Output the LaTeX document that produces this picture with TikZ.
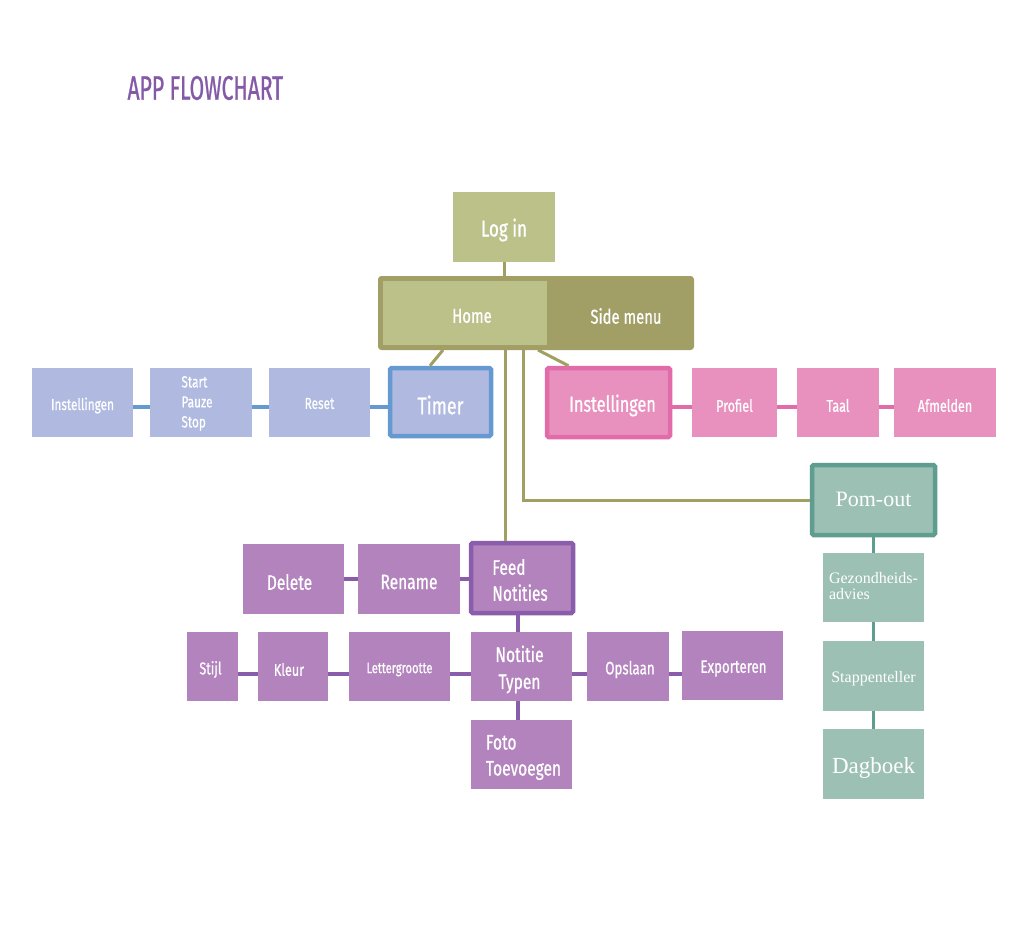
\documentclass[tikz,border=0pt]{standalone}
\usepackage{fontspec}
\setmainfont{Fira Sans}[FakeStretch=0.74, FakeBold=0.7]
\newfontfamily\titlefont{Fira Sans}[FakeStretch=0.62, FakeBold=0.8]
\newfontfamily\serif{Liberation Serif}
\definecolor{olL}{HTML}{BCC18A}
\definecolor{olD}{HTML}{A19F66}
\definecolor{olLine}{HTML}{A0A062}
\definecolor{blF}{HTML}{B0B9E0}
\definecolor{blB}{HTML}{6799D1}
\definecolor{piF}{HTML}{E891BE}
\definecolor{piB}{HTML}{E26BA9}
\definecolor{puF}{HTML}{B283BD}
\definecolor{puB}{HTML}{8A5DAC}
\definecolor{teF}{HTML}{9DC0B4}
\definecolor{teB}{HTML}{5E9D90}
\definecolor{titleC}{HTML}{8459A8}
\newcommand{\fs}[2]{\fontsize{#1}{#2}\selectfont}
% \bx{name}{box style}{position}{width}{height}{text style}{text}
\newcommand{\bx}[7]{%
  \node[#2, minimum width=#4pt, minimum height=#5pt] (#1) at (#3) {};
  \node[txt, #6] (#1t) at ([yshift=-3pt]#1.center) {#7};}
\tikzset{
  box/.style={rectangle, inner sep=0pt},
  txt/.style={inner sep=1pt, text=white, align=center},
  blue/.style={box, fill=blF},
  pink/.style={box, fill=piF},
  purp/.style={box, fill=puF},
  teal/.style={box, fill=teF},
  main/.style={line width=4.5pt, rounded corners=1.5pt},
  ser/.style={font=\serif\fs{16}{16}},
  oline/.style={draw=olLine, line width=3pt},
  bline/.style={draw=blB, line width=4pt},
  pline/.style={draw=piB, line width=4pt},
  uline/.style={draw=puB, line width=3.5pt},
  tline/.style={draw=teB, line width=3.5pt},
}
\begin{document}
\begin{tikzpicture}[x=1pt,y=-1pt]
\useasboundingbox[fill=white] (0,0) rectangle (1024,950);

\node[anchor=west, text=titleC, font=\titlefont\fs{34}{36}] (title) at (124,88) {APP FLOWCHART};

% olive
\bx{login}{box, fill=olL}{504,227}{102}{70}{font=\fs{23}{25}}{Log in}
\node[box, fill=olD, draw=olD, line width=1pt, rounded corners=3pt, minimum width=315pt, minimum height=73pt] (outer) at (536,313) {};
\node[box, fill=olL, minimum width=164pt, minimum height=64pt] (home) at (465,313) {};
\node[txt, font=\fs{20}{22}] (homet) at (472,316) {Home};
\node[txt, font=\fs{20}{22}] (side) at (626,316) {Side menu};
\draw[oline] (login.south) -- (login.south |- outer.north);

% timer row
\bx{timer}{blue, draw=blB, main}{440.5,402}{101}{68}{font=\fs{24}{26}}{Timer}
\bx{reset}{blue}{319.5,402.5}{101}{69}{font=\fs{16}{20}, yshift=2pt}{Reset}
\bx{sps}{blue}{201,402.5}{102}{69}{font=\fs{16}{20}, align=left, xshift=-4pt, yshift=2pt}{Start\\Pauze\\Stop}
\bx{instl}{blue}{82.5,402.5}{101}{69}{font=\fs{16}{20}}{Instellingen}
\draw[bline] (timer.west |- 0,407) -- (reset.east |- 0,407);
\draw[bline] (reset.west |- 0,407) -- (sps.east |- 0,407);
\draw[bline] (sps.west |- 0,407) -- (instl.east |- 0,407);

% pink row
\bx{instr}{pink, draw=piB, main}{608.5,402.5}{123}{69}{font=\fs{22}{24}, xshift=4pt}{Instellingen}
\bx{profiel}{pink}{734.5,402.5}{85}{69}{font=\fs{17}{19}}{Profiel}
\bx{taal}{pink}{838,402.5}{82}{69}{font=\fs{17}{19}}{Taal}
\bx{afm}{pink}{945,402.5}{102}{69}{font=\fs{17}{19}}{Afmelden}
\draw[pline] (instr.east |- 0,407) -- (profiel.west |- 0,407);
\draw[pline] (profiel.east |- 0,407) -- (taal.west |- 0,407);
\draw[pline] (taal.east |- 0,407) -- (afm.west |- 0,407);

% home connectors
\draw[oline] ([xshift=-93pt]outer.south) -- ([xshift=-10.5pt]timer.north);
\draw[oline] ([xshift=2pt]outer.south) -- ([xshift=-40pt]instr.north);

% pom-out
\bx{pom}{teal, draw=teB, main}{873.5,500}{123}{70}{font=\serif\fs{22}{24}, yshift=4pt}{Pom-out}
\bx{gez}{teal}{873.5,587.5}{101}{69}{ser, align=left, yshift=4pt}{Gezondheids-\\advies}
\bx{stap}{teal}{873.5,676}{101}{70}{ser}{Stappenteller}
\bx{dag}{teal}{873.5,764}{101}{70}{font=\serif\fs{23}{25}, yshift=-1pt}{Dagboek}
\draw[tline] (pom.south) -- (gez.north);
\draw[tline] (gez.south) -- (stap.north);
\draw[tline] (stap.south) -- (dag.north);

% feed
\bx{feed}{purp, draw=puB, main}{522,578}{102}{70}{font=\fs{21}{26}, align=left, xshift=-2pt, yshift=1pt}{Feed\\Notities}
\bx{rename}{purp}{409,579}{102}{70}{font=\fs{21}{23}}{Rename}
\bx{delete}{purp}{293.5,579}{101}{70}{font=\fs{21}{23}, xshift=-4pt}{Delete}
\draw[uline] (feed.west |- 0,579) -- (rename.east |- 0,579);
\draw[uline] (rename.west |- 0,579) -- (delete.east |- 0,579);

\draw[oline] ([xshift=-17pt]feed.north) -- ([xshift=-17pt]feed.north |- outer.south);
\draw[oline] ([xshift=-13pt]outer.south) |- (pom.west);

% notitie row
\bx{not}{purp}{521.5,666.5}{101}{69}{font=\fs{21}{27}, xshift=-2pt}{Notitie\\Typen}
\bx{letter}{purp}{399.5,666.5}{101}{69}{font=\fs{15}{17}}{Lettergrootte}
\bx{kleur}{purp}{293,666.5}{70}{69}{font=\fs{17}{19}, xshift=-4pt}{Kleur}
\bx{stijl}{purp}{212.5,666.5}{51}{69}{font=\fs{17}{19}, xshift=-2pt}{Stijl}
\bx{opslaan}{purp}{628,666.5}{82}{69}{font=\fs{18}{20}, xshift=2pt}{Opslaan}
\bx{export}{purp}{732.5,665.5}{101}{69}{font=\fs{18}{20}, xshift=1pt}{Exporteren}
\bx{foto}{purp}{521.5,754.5}{101}{69}{font=\fs{21}{26}, align=left, xshift=2pt}{Foto\\Toevoegen}
\draw[uline] ([xshift=-4pt]feed.south) -- ([xshift=-3.5pt]not.north);
\draw[uline] ([xshift=-3.5pt]not.south) -- ([xshift=-3.5pt]foto.north);
\draw[uline] (not.west |- 0,674) -- (letter.east |- 0,674);
\draw[uline] (letter.west |- 0,674) -- (kleur.east |- 0,674);
\draw[uline] (kleur.west |- 0,674) -- (stijl.east |- 0,674);
\draw[uline] (not.east |- 0,674) -- (opslaan.west |- 0,674);
\draw[uline] (opslaan.east |- 0,674) -- (export.west |- 0,674);
\end{tikzpicture}
\end{document}
